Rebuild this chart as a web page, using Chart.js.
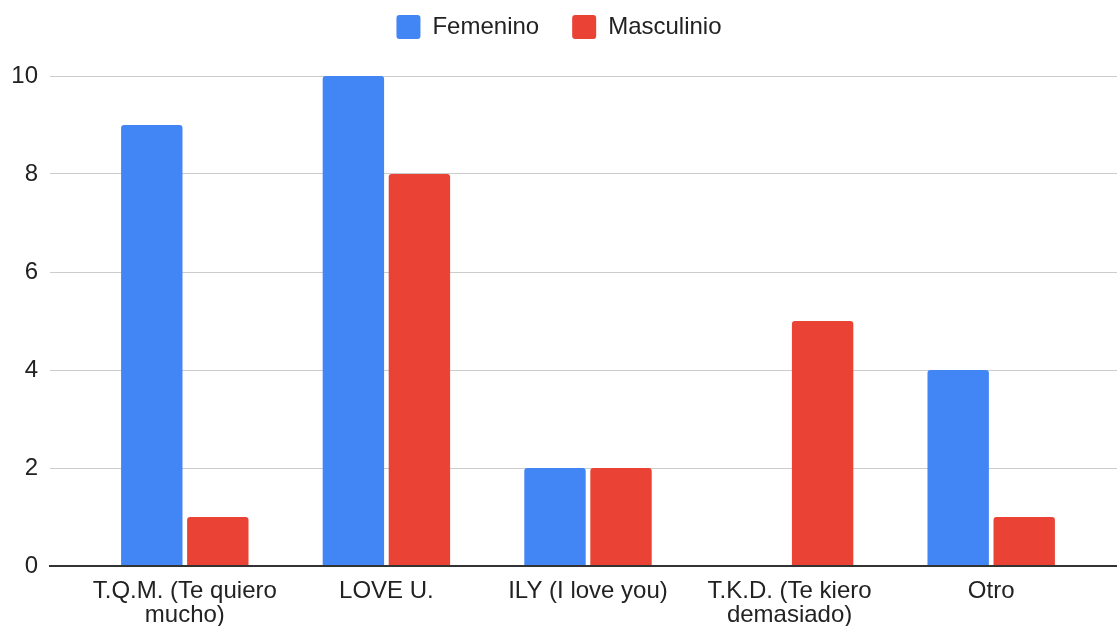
<!DOCTYPE html>
<html>
<head>
<meta charset="utf-8">
<script src="https://cdn.jsdelivr.net/npm/chart.js@4"></script>
<style>
  html,body{margin:0;padding:0;background:#fff;}
  #wrap{width:1117px;height:626px;}
</style>
</head>
<body>
<div id="wrap"><canvas id="data_chart" width="1117" height="626"></canvas></div>
<script>
const categories=[["T.Q.M. (Te quiero","mucho)"],"LOVE U.","ILY (I love you)",["T.K.D. (Te kiero","demasiado)"],"Otro"]
const femenino=[9,10,2,0,4]
const masculinio=[1,8,2,5,1]
const y_ticks=[0,2,4,6,8,10]

Chart.defaults.font.family="'Liberation Sans', Arial, sans-serif"
Chart.defaults.color="#222"

// same pixel snapping as chart.js uses for 1px lines
function align_px(p,w){return Math.round(p-w/2)+w/2}

// gridlines in the reference run past the plot to the right edge, baseline is dark
const extendGrid={
  id:'extendGrid',
  beforeInit(chart){
    const fit=chart.legend.fit
    chart.legend.fit=function(){
      fit.bind(chart.legend)()
      this.height+=27
    }
  },
  afterLayout(chart){
    const lg=chart.legend
    lg.left+=13
    lg.right+=13
    if(lg.adjustHitBoxes) lg.adjustHitBoxes()
  },
  beforeDatasetsDraw(chart){
    const y=chart.scales.y
    const ctx=chart.ctx
    ctx.save()
    ctx.strokeStyle='#cccccc'
    ctx.lineWidth=1
    y.ticks.forEach(t=>{
      const py=align_px(y.getPixelForValue(t.value),1)
      ctx.beginPath()
      ctx.moveTo(chart.chartArea.right-1,py)
      ctx.lineTo(chart.width,py)
      ctx.stroke()
    })
    ctx.restore()
  },
  afterDatasetsDraw(chart){
    const y=chart.scales.y
    const ctx=chart.ctx
    const py=align_px(y.getPixelForValue(0),2)
    ctx.save()
    ctx.strokeStyle='#333333'
    ctx.lineWidth=2
    ctx.beginPath()
    ctx.moveTo(chart.chartArea.left-35,py)
    ctx.lineTo(chart.width,py)
    ctx.stroke()
    ctx.restore()
  }
}

const data_chart=new Chart('data_chart',{
  type:'bar',
  data:{
    labels:categories,
    datasets:[{
      label:'Femenino',
      data:femenino,
      backgroundColor:'#4285F4',
      borderRadius:3,
      borderSkipped:'start',
      barPercentage:0.93,
      categoryPercentage:0.655
    },{
      label:'Masculinio',
      data:masculinio,
      backgroundColor:'#EA4335',
      borderRadius:3,
      borderSkipped:'start',
      barPercentage:0.93,
      categoryPercentage:0.655
    }]
  },
  options:{
    responsive:false,
    animation:false,
    layout:{padding:{top:-18,left:0,right:25,bottom:0}},
    plugins:{
      legend:{
        position:'top',
        labels:{
          boxWidth:24,
          boxHeight:24,
          padding:33,
          font:{size:24},
          color:'#222',
          useBorderRadius:true,
          borderRadius:3
        }
      },
      tooltip:{enabled:false}
    },
    scales:{
      x:{
        grid:{display:false},
        border:{display:false},
        ticks:{font:{size:24,lineHeight:1},color:'#222',maxRotation:0,autoSkip:false,padding:5},
        afterFit:scale=>{scale.height=60;scale.paddingLeft=0;scale.paddingRight=0}
      },
      y:{
        min:0,
        max:10,
        afterBuildTicks:axis=>{axis.ticks=y_ticks.map(v=>({value:v}))},
        afterFit:axis=>{axis.width=84},
        grid:{color:'#cccccc',lineWidth:1,drawTicks:true,tickLength:34,tickColor:'#cccccc'},
        border:{display:false},
        ticks:{font:{size:24},color:'#222',padding:12}
      }
    }
  },
  plugins:[extendGrid]
})
</script>
</body>
</html>
